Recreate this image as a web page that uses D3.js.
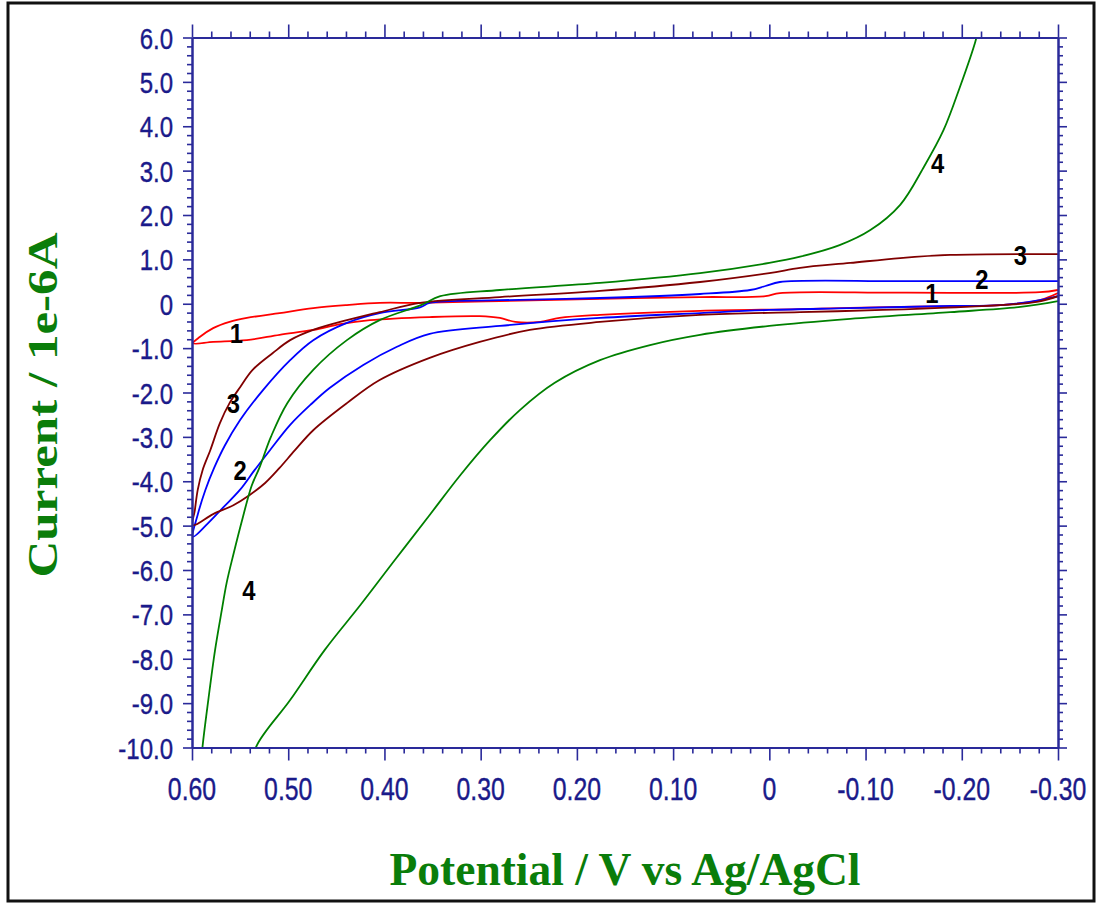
<!DOCTYPE html>
<html>
<head>
<meta charset="utf-8">
<script src="https://cdn.jsdelivr.net/npm/d3@7"></script>
<style>
  html, body { margin: 0; padding: 0; background: #fff; }
  svg { display: block; }
</style>
</head>
<body>
<svg id="chart" width="1101" height="907"></svg>
<script>
// ---------------- data ----------------
const xTicks = [0.60, 0.50, 0.40, 0.30, 0.20, 0.10, 0, -0.10, -0.20, -0.30];
const xTickLabels = ["0.60", "0.50", "0.40", "0.30", "0.20", "0.10", "0", "-0.10", "-0.20", "-0.30"];
const yTicks = [6, 5, 4, 3, 2, 1, 0, -1, -2, -3, -4, -5, -6, -7, -8, -9, -10];
const yTickLabels = ["6.0", "5.0", "4.0", "3.0", "2.0", "1.0", "0", "-1.0", "-2.0", "-3.0", "-4.0", "-5.0", "-6.0", "-7.0", "-8.0", "-9.0", "-10.0"];

// curve 1 (red) : [potential V, current 1e-6 A]
const cv1 = [
  [-0.30, 0.31], [-0.281, 0.26], [-0.136, 0.25], [-0.011, 0.24], [0.004, 0.17], [0.072, 0.15],
  [0.176, 0.11], [0.280, 0.06], [0.363, 0.02], [0.405, 0.02], [0.439, -0.03], [0.474, -0.10],
  [0.509, -0.21], [0.543, -0.32], [0.561, -0.41], [0.578, -0.55], [0.592, -0.75], [0.599, -0.89],
  [0.578, -0.86], [0.543, -0.82], [0.509, -0.70], [0.474, -0.59], [0.446, -0.46], [0.415, -0.37],
  [0.353, -0.30], [0.301, -0.28], [0.280, -0.32], [0.264, -0.41], [0.238, -0.41], [0.218, -0.32],
  [0.176, -0.25], [0.072, -0.16], [-0.032, -0.12], [-0.136, -0.07], [-0.240, -0.03], [-0.281, 0.08],
  [-0.30, 0.24]
];
// curve 2 (blue)
const cv2 = [
  [-0.30, 0.51], [-0.136, 0.51], [-0.011, 0.49], [0.004, 0.40], [0.020, 0.31], [0.072, 0.22],
  [0.176, 0.13], [0.280, 0.08], [0.353, 0.02], [0.363, -0.08], [0.405, -0.21], [0.439, -0.43],
  [0.474, -0.82], [0.498, -1.27], [0.526, -1.94], [0.550, -2.62], [0.566, -3.20], [0.577, -3.70],
  [0.586, -4.19], [0.594, -4.75], [0.599, -5.25],
  [0.584, -4.96], [0.568, -4.60], [0.550, -4.19], [0.535, -3.75], [0.519, -3.30], [0.498, -2.73],
  [0.477, -2.28], [0.457, -1.90], [0.422, -1.38], [0.387, -0.97], [0.353, -0.68], [0.280, -0.50],
  [0.176, -0.32], [0.072, -0.21], [0.0, -0.14], [-0.084, -0.10], [-0.188, -0.05], [-0.240, -0.03],
  [-0.281, 0.08], [-0.30, 0.17]
];
// curve 3 (dark red)
const cv3 = [
  [-0.30, 1.12], [-0.188, 1.10], [-0.136, 1.03], [-0.084, 0.92], [-0.032, 0.81], [0.0, 0.69],
  [0.072, 0.49], [0.176, 0.29], [0.280, 0.15], [0.363, 0.02], [0.405, -0.19], [0.439, -0.37],
  [0.474, -0.59], [0.498, -0.82], [0.516, -1.11], [0.537, -1.49], [0.550, -1.88], [0.561, -2.24],
  [0.571, -2.69], [0.581, -3.30], [0.589, -3.75], [0.594, -4.19], [0.597, -4.65], [0.599, -4.99],
  [0.578, -4.74], [0.557, -4.54], [0.540, -4.31], [0.524, -4.04], [0.509, -3.70], [0.493, -3.30],
  [0.474, -2.85], [0.439, -2.24], [0.405, -1.72], [0.353, -1.22], [0.301, -0.86], [0.249, -0.59],
  [0.176, -0.41], [0.072, -0.25], [-0.032, -0.19], [-0.118, -0.14], [-0.240, -0.03], [-0.278, 0.04],
  [-0.30, 0.17]
];
// curve 4 (green)
const cv4 = [
  [-0.217, 6.17], [-0.214, 5.90], [-0.198, 4.88], [-0.181, 3.91], [-0.160, 3.06], [-0.136, 2.23],
  [-0.105, 1.66], [-0.073, 1.32], [-0.032, 1.06], [0.0, 0.92], [0.072, 0.69], [0.176, 0.47],
  [0.280, 0.31], [0.342, 0.17], [0.362, -0.03], [0.405, -0.37], [0.439, -0.82], [0.474, -1.49],
  [0.501, -2.24], [0.518, -3.00], [0.530, -3.70], [0.538, -4.10], [0.547, -4.80], [0.557, -5.65],
  [0.564, -6.29], [0.569, -6.90], [0.576, -7.80], [0.583, -8.92], [0.589, -9.97], [0.591, -10.5],
  null,
  [0.538, -10.5], [0.533, -9.97], [0.498, -8.93], [0.462, -7.80], [0.425, -6.79], [0.389, -5.77],
  [0.353, -4.76], [0.321, -3.86], [0.290, -3.07], [0.259, -2.39], [0.223, -1.78], [0.176, -1.27],
  [0.124, -0.93], [0.072, -0.70], [0.0, -0.50], [-0.084, -0.34], [-0.188, -0.19], [-0.261, -0.07],
  [-0.30, 0.06]
];

const seriesColors = ["#ff0000", "#0000ff", "#800000", "#008000"];
const curveLabels = [
  ["1", 0.554, -0.66], ["1", -0.169, 0.24],
  ["2", 0.550, -3.75], ["2", -0.221, 0.56],
  ["3", 0.557, -2.24], ["3", -0.261, 1.10],
  ["4", -0.175, 3.17], ["4", 0.541, -6.45]
];
const xTitle = "Potential / V vs Ag/AgCl";
const yTitle = "Current / 1e-6A";

// ---------------- layout ----------------
const svg = d3.select("#chart");
const L = 192, R = 1058, T = 37.5, B = 747.5;
const x = d3.scaleLinear().domain([0.60, -0.30]).range([L, R]);
const y = d3.scaleLinear().domain([6, -10]).range([T, B]);
const axisColor = "#2a2a9a";
const labelColor = "#1a1a8a";
const titleColor = "#0a7d0a";

// outer frame
svg.append("rect").attr("x", 8).attr("y", 3).attr("width", 1086).attr("height", 898)
  .attr("fill", "none").attr("stroke", "#111").attr("stroke-width", 3);

// clip
svg.append("clipPath").attr("id", "plotclip").append("rect")
  .attr("x", L).attr("y", T).attr("width", R - L).attr("height", B - T);

// curves
const line = d3.line()
  .defined(d => d !== null)
  .curve(d3.curveCatmullRom.alpha(0.5))
  .x(d => x(d[0])).y(d => y(d[1]));
const curves = [cv1, cv2, cv3, cv4];
const gCurves = svg.append("g").attr("clip-path", "url(#plotclip)");
curves.forEach((c, i) => {
  gCurves.append("path").datum(c).attr("d", line)
    .attr("fill", "none").attr("stroke", seriesColors[i]).attr("stroke-width", 1.8)
    .attr("stroke-linejoin", "round");
});

// axes (d3 axis generators, styled)
const minorX = d3.range(0, 46).map(i => 0.60 - i * 0.02).filter(v => !xTicks.some(t => Math.abs(t - v) < 1e-6));
const minorY = d3.range(0, 81).map(i => 6 - i * 0.2).filter(v => !yTicks.some(t => Math.abs(t - v) < 1e-6));

function styleAxis(g) {
  g.select(".domain").attr("stroke", axisColor).attr("stroke-width", 2);
  g.selectAll(".tick line").attr("stroke", axisColor).attr("stroke-width", 1.6);
  g.selectAll(".tick text").remove();
}
// bottom
svg.append("g").attr("transform", `translate(0,${B})`)
  .call(d3.axisBottom(x).tickValues(xTicks).tickSize(13).tickSizeOuter(0)).call(styleAxis);
svg.append("g").attr("transform", `translate(0,${B})`)
  .call(d3.axisBottom(x).tickValues(minorX).tickSize(6).tickSizeOuter(0)).call(styleAxis);
// top
svg.append("g").attr("transform", `translate(0,${T})`)
  .call(d3.axisTop(x).tickValues(xTicks).tickSize(13).tickSizeOuter(0)).call(styleAxis);
svg.append("g").attr("transform", `translate(0,${T})`)
  .call(d3.axisTop(x).tickValues(minorX).tickSize(6).tickSizeOuter(0)).call(styleAxis);
// left
svg.append("g").attr("transform", `translate(${L},0)`)
  .call(d3.axisLeft(y).tickValues(yTicks).tickSize(9).tickSizeOuter(0)).call(styleAxis);
svg.append("g").attr("transform", `translate(${L},0)`)
  .call(d3.axisLeft(y).tickValues(minorY).tickSize(5).tickSizeOuter(0)).call(styleAxis);
// right
svg.append("g").attr("transform", `translate(${R},0)`)
  .call(d3.axisRight(y).tickValues(yTicks).tickSize(9).tickSizeOuter(0)).call(styleAxis);
svg.append("g").attr("transform", `translate(${R},0)`)
  .call(d3.axisRight(y).tickValues(minorY).tickSize(5).tickSizeOuter(0)).call(styleAxis);

// tick labels (narrow sans)
const sx = 0.8;
xTicks.forEach((v, i) => {
  svg.append("text")
    .attr("transform", `translate(${x(v)},${B + 52}) scale(${sx},1)`)
    .attr("text-anchor", "middle")
    .attr("font-family", "Liberation Sans, Arial, sans-serif")
    .attr("font-size", 31).attr("fill", labelColor)
    .attr("stroke", labelColor).attr("stroke-width", 0.4)
    .text(xTickLabels[i]);
});
yTicks.forEach((v, i) => {
  svg.append("text")
    .attr("transform", `translate(${L - 19},${y(v) + 11}) scale(${sx},1)`)
    .attr("text-anchor", "end")
    .attr("font-family", "Liberation Sans, Arial, sans-serif")
    .attr("font-size", 30).attr("fill", labelColor)
    .attr("stroke", labelColor).attr("stroke-width", 0.4)
    .text(yTickLabels[i]);
});

// curve number labels
curveLabels.forEach(d => {
  svg.append("text")
    .attr("transform", `translate(${x(d[1])},${y(d[2]) + 10}) scale(0.85,1)`)
    .attr("text-anchor", "middle")
    .attr("font-family", "Liberation Sans, Arial, sans-serif")
    .attr("font-weight", "bold").attr("font-size", 28).attr("fill", "#000")
    .text(d[0]);
});

// titles
svg.append("text")
  .attr("x", 625).attr("y", 885)
  .attr("text-anchor", "middle")
  .attr("font-family", "Liberation Serif, Times New Roman, serif")
  .attr("font-weight", "bold").attr("font-size", 46).attr("fill", titleColor)
  .attr("textLength", 471).attr("lengthAdjust", "spacingAndGlyphs")
  .text(xTitle);
svg.append("text")
  .attr("transform", `translate(57,405) rotate(-90)`)
  .attr("text-anchor", "middle")
  .attr("font-family", "Liberation Serif, Times New Roman, serif")
  .attr("font-weight", "bold").attr("font-size", 42).attr("fill", titleColor)
  .attr("textLength", 345).attr("lengthAdjust", "spacingAndGlyphs")
  .text(yTitle);
</script>
</body>
</html>
